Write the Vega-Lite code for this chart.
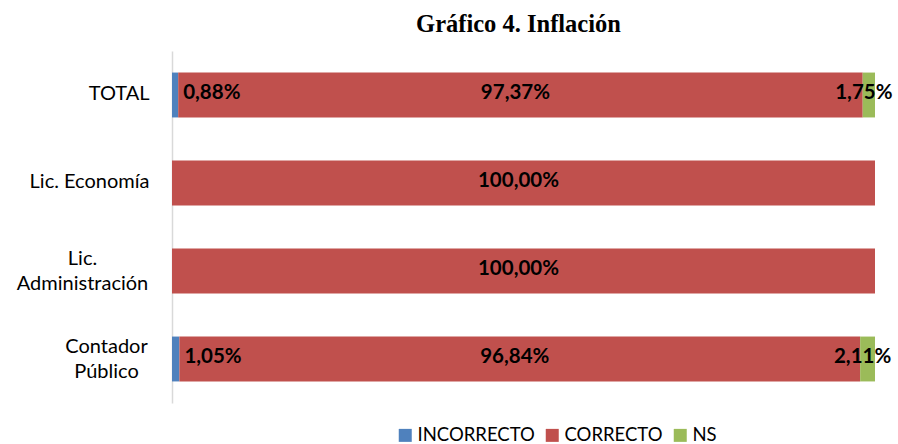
{
  "$schema": "https://vega.github.io/schema/vega-lite/v6.json",
  "width": 703,
  "height": 352,
  "autosize": "none",
  "padding": {"left": 172, "top": 51, "right": 23, "bottom": 41},
  "background": "white",
  "config": {
    "view": {"stroke": null},
    "locale": {"number": {"decimal": ",", "thousands": ".", "grouping": [3], "currency": ["", " €"]}}
  },
  "title": {
    "text": "Gráfico 4. Inflación",
    "font": "Liberation Serif",
    "fontSize": 24.5,
    "fontWeight": "bold",
    "color": "#000000",
    "anchor": "middle",
    "offset": 14,
    "dx": -5
  },
  "data": {
    "values": [
      {"categoria": "TOTAL", "respuesta": "INCORRECTO", "valor": 0.0088},
      {"categoria": "TOTAL", "respuesta": "CORRECTO", "valor": 0.9737},
      {"categoria": "TOTAL", "respuesta": "NS", "valor": 0.0175},
      {"categoria": "Lic. Economía", "respuesta": "CORRECTO", "valor": 1.0},
      {"categoria": "Lic. Administración", "respuesta": "CORRECTO", "valor": 1.0},
      {"categoria": "Contador Público", "respuesta": "INCORRECTO", "valor": 0.0105},
      {"categoria": "Contador Público", "respuesta": "CORRECTO", "valor": 0.9684},
      {"categoria": "Contador Público", "respuesta": "NS", "valor": 0.0211}
    ]
  },
  "transform": [
    {"calculate": "indexof(['INCORRECTO','CORRECTO','NS'], datum.respuesta)", "as": "orden"},
    {"stack": "valor", "groupby": ["categoria"], "sort": [{"field": "orden", "order": "ascending"}], "offset": "normalize", "as": ["x0", "x1"]},
    {"calculate": "(datum.x0 + datum.x1) / 2", "as": "xm"}
  ],
  "encoding": {
    "y": {
      "field": "categoria",
      "type": "nominal",
      "sort": ["TOTAL", "Lic. Economía", "Lic. Administración", "Contador Público"],
      "scale": {"paddingInner": 0.49, "paddingOuter": 0.245},
      "axis": {
        "title": null,
        "ticks": false,
        "tickSize": 0,
        "domainColor": "#D9D9D9",
        "domainWidth": 1.5,
        "labelFont": "Lato",
        "labelFontSize": 20,
        "labelColor": "#000000",
        "labelLineHeight": 24.5,
        "labelLimit": 200,
        "labelExpr": "datum.value == 'Lic. Administración' ? ['Lic.', 'Administración'] : datum.value == 'Contador Público' ? ['Contador', 'Público'] : datum.value",
        "labelAlign": {"condition": {"test": "datum.value == 'Lic. Administración' || datum.value == 'Contador Público'", "value": "center"}, "value": "right"},
        "labelOffset": {"condition": {"test": "datum.value == 'Lic. Administración' || datum.value == 'Contador Público'", "value": -12}, "value": -1},
        "labelPadding": {"condition": [
          {"test": "datum.value == 'Lic. Administración'", "value": 90},
          {"test": "datum.value == 'Contador Público'", "value": 66}
        ], "value": 23}
      }
    }
  },
  "layer": [
    {
      "mark": {"type": "bar"},
      "encoding": {
        "x": {"field": "x0", "type": "quantitative", "scale": {"domain": [0, 1]}, "axis": null},
        "x2": {"field": "x1"},
        "color": {
          "field": "respuesta",
          "type": "nominal",
          "scale": {"domain": ["INCORRECTO", "CORRECTO", "NS"], "range": ["#4F81BD", "#C0504D", "#9BBB59"]},
          "legend": {
            "title": null,
            "orient": "none",
            "direction": "horizontal",
            "legendX": 224,
            "legendY": 375,
            "symbolType": "square",
            "symbolSize": 169,
            "symbolStrokeWidth": 0,
            "labelFont": "Lato",
            "labelFontSize": 18.5,
            "labelColor": "#000000",
            "labelOffset": 3,
            "columnPadding": 8,
            "padding": 0
          }
        }
      }
    },
    {
      "transform": [{"filter": "datum.respuesta == 'INCORRECTO'"}],
      "mark": {"type": "text", "align": "left", "baseline": "middle", "dx": 5, "dy": -2, "font": "Lato", "fontSize": 20.5, "fontWeight": "bold", "color": "#000000"},
      "encoding": {
        "x": {"field": "x1", "type": "quantitative"},
        "text": {"field": "valor", "type": "quantitative", "format": ".2%"}
      }
    },
    {
      "transform": [{"filter": "datum.respuesta != 'INCORRECTO'"}],
      "mark": {"type": "text", "align": "center", "baseline": "middle", "dy": -2, "dx": -5, "font": "Lato", "fontSize": 20.5, "fontWeight": "bold", "color": "#000000"},
      "encoding": {
        "x": {"field": "xm", "type": "quantitative"},
        "text": {"field": "valor", "type": "quantitative", "format": ".2%"}
      }
    }
  ]
}
